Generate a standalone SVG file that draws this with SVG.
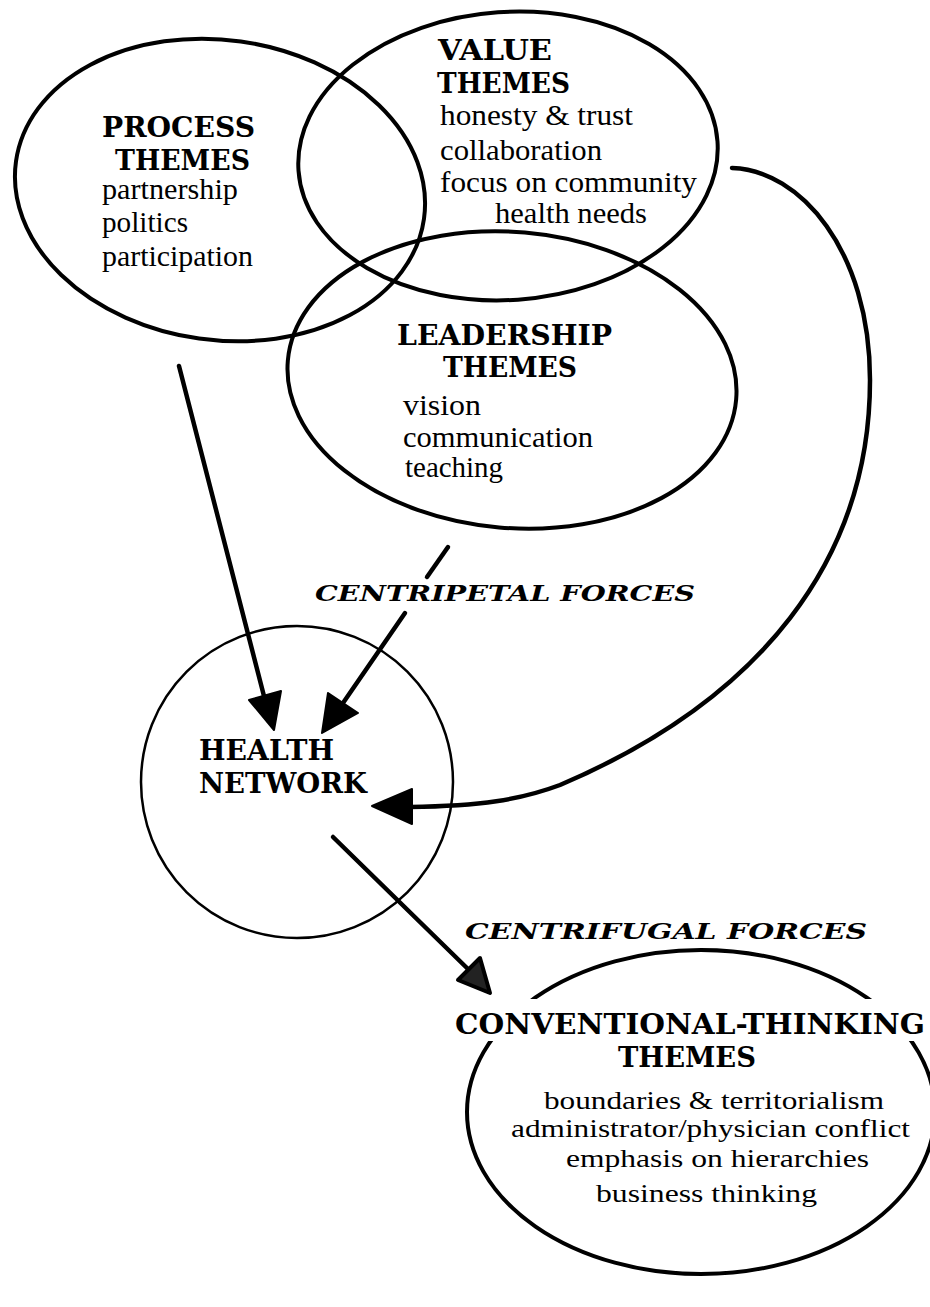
<svg xmlns="http://www.w3.org/2000/svg" width="930" height="1307" viewBox="0 0 930 1307">
  <style>
    .ring { fill: none; stroke: #000; stroke-width: 4; }
    .thin { fill: none; stroke: #000; stroke-width: 2.5; }
    .hd { font-family: "DejaVu Serif", "Liberation Serif", serif; font-weight: bold; font-size: 27px; fill: #000; }
    .tx { font-family: "Liberation Serif", "DejaVu Serif", serif; font-size: 29px; fill: #000; }
    .sm { font-size: 26px; }
    .force { font-family: "DejaVu Serif", "Liberation Serif", serif; font-style: italic; font-weight: bold; font-size: 23px; fill: #000; }
    .shaft { fill: none; stroke: #000; stroke-width: 4.5; stroke-linecap: round; }
    .head { fill: #000; stroke: #000; stroke-width: 2; stroke-linejoin: round; }
  </style>
  <rect width="930" height="1307" fill="#fff"/>

  <!-- theme ellipses -->
  <g id="process-themes">
    <ellipse class="ring" cx="220" cy="190" rx="206" ry="150" transform="rotate(8 220 190)"/>
    <text class="hd" x="102" y="137" textLength="153" lengthAdjust="spacingAndGlyphs">PROCESS</text>
    <text class="hd" x="115" y="170" textLength="135" lengthAdjust="spacingAndGlyphs">THEMES</text>
    <text class="tx" x="102" y="199" textLength="136" lengthAdjust="spacingAndGlyphs">partnership</text>
    <text class="tx" x="102" y="232" textLength="86" lengthAdjust="spacingAndGlyphs">politics</text>
    <text class="tx" x="102" y="266" textLength="151" lengthAdjust="spacingAndGlyphs">participation</text>
  </g>

  <g id="value-themes">
    <ellipse class="ring" cx="508" cy="156" rx="210" ry="144" transform="rotate(-4 508 156)"/>
    <text class="hd" x="438" y="60" textLength="114" lengthAdjust="spacingAndGlyphs">VALUE</text>
    <text class="hd" x="437" y="93" textLength="133" lengthAdjust="spacingAndGlyphs">THEMES</text>
    <text class="tx" x="440" y="125" textLength="193" lengthAdjust="spacingAndGlyphs">honesty &amp; trust</text>
    <text class="tx" x="440" y="160" textLength="162" lengthAdjust="spacingAndGlyphs">collaboration</text>
    <text class="tx" x="440" y="192" textLength="257" lengthAdjust="spacingAndGlyphs">focus on community</text>
    <text class="tx" x="495" y="223" textLength="152" lengthAdjust="spacingAndGlyphs">health needs</text>
  </g>

  <g id="leadership-themes">
    <ellipse class="ring" cx="512" cy="380" rx="225" ry="148" transform="rotate(5 512 380)"/>
    <text class="hd" x="397" y="345" textLength="215" lengthAdjust="spacingAndGlyphs">LEADERSHIP</text>
    <text class="hd" x="443" y="377" textLength="134" lengthAdjust="spacingAndGlyphs">THEMES</text>
    <text class="tx" x="403" y="415" textLength="78" lengthAdjust="spacingAndGlyphs">vision</text>
    <text class="tx" x="403" y="447" textLength="190" lengthAdjust="spacingAndGlyphs">communication</text>
    <text class="tx" x="405" y="477" textLength="98" lengthAdjust="spacingAndGlyphs">teaching</text>
  </g>

  <g id="health-network">
    <circle class="thin" cx="297" cy="782" r="156"/>
    <text class="hd" x="199" y="760" textLength="135" lengthAdjust="spacingAndGlyphs">HEALTH</text>
    <text class="hd" x="199" y="793" textLength="168" lengthAdjust="spacingAndGlyphs">NETWORK</text>
  </g>

  <g id="conventional-thinking-themes">
    <ellipse class="ring" cx="701" cy="1112" rx="234" ry="162"/>
    <!-- the title sits on a white band that breaks the outline -->
    <rect x="452" y="999" width="478" height="42" fill="#fff"/>
    <text class="hd" x="455" y="1034" textLength="470" lengthAdjust="spacingAndGlyphs">CONVENTIONAL-THINKING</text>
    <text class="hd" x="618" y="1067" textLength="138" lengthAdjust="spacingAndGlyphs">THEMES</text>
    <text class="tx sm" x="544" y="1109" textLength="340" lengthAdjust="spacingAndGlyphs">boundaries &amp; territorialism</text>
    <text class="tx sm" x="511" y="1137" textLength="399" lengthAdjust="spacingAndGlyphs">administrator/physician conflict</text>
    <text class="tx sm" x="566" y="1167" textLength="303" lengthAdjust="spacingAndGlyphs">emphasis on hierarchies</text>
    <text class="tx sm" x="596" y="1202" textLength="221" lengthAdjust="spacingAndGlyphs">business thinking</text>
  </g>

  <!-- force labels -->
  <g id="labels">
    <text class="force" x="315" y="601" textLength="380" lengthAdjust="spacingAndGlyphs">CENTRIPETAL FORCES</text>
    <text class="force" x="465" y="939" textLength="402" lengthAdjust="spacingAndGlyphs">CENTRIFUGAL FORCES</text>
  </g>

  <!-- connectors -->
  <g id="connectors">
    <!-- process themes to network -->
    <line class="shaft" x1="179" y1="366" x2="265" y2="700"/>
    <polygon class="head" points="249,700 281,691 274,730"/>

    <!-- leadership themes to network, broken around the label -->
    <line class="shaft" x1="448" y1="547" x2="427" y2="577"/>
    <line class="shaft" x1="405" y1="613" x2="343" y2="703"/>
    <polygon class="head" points="328,693 358,713 322,733"/>

    <!-- value themes sweep round to network -->
    <path class="shaft" stroke-width="4" d="M732,168 C800,170 870,250 870,380 C870,560 760,700 560,785 C520,800 480,806 410,807"/>
    <polygon class="head" points="412,789 412,824 372,806"/>

    <!-- network out to conventional thinking -->
    <line class="shaft" x1="333" y1="837" x2="469" y2="970"/>
    <polygon points="458,980 480,958 490,993" fill="#222" stroke="#000" stroke-width="4" stroke-linejoin="round"/>
  </g>
</svg>
